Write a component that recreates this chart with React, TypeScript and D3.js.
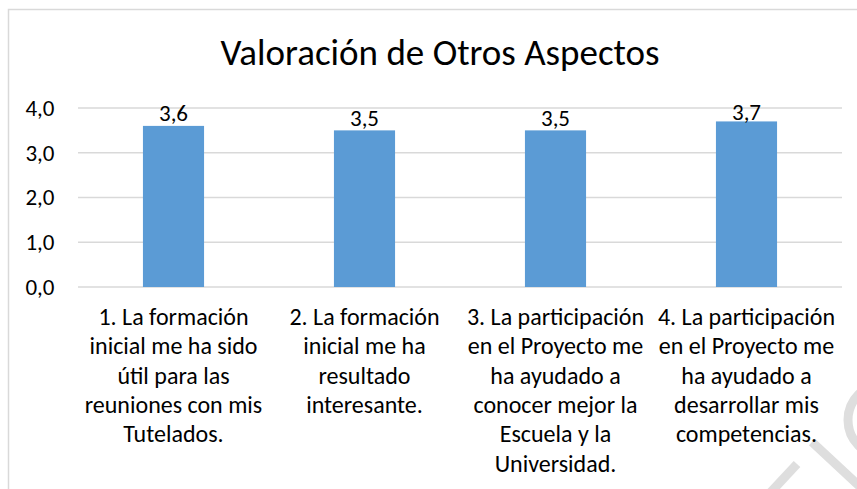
import React from "react";
import * as d3 from "d3";

const title = "Valoración de Otros Aspectos";
const categories: string[][] = [
  ["1. La formación", "inicial me ha sido", "útil para las", "reuniones con mis", "Tutelados."],
  ["2. La formación", "inicial me ha", "resultado", "interesante."],
  ["3. La participación", "en el Proyecto me", "ha ayudado a", "conocer mejor la", "Escuela y la", "Universidad."],
  ["4. La participación", "en el Proyecto me", "ha ayudado a", "desarrollar mis", "competencias."],
];
const values = [3.6, 3.5, 3.5, 3.7];
const yTicks = [0, 1, 2, 3, 4];

const W = 857;
const H = 489;
const FONT = "Carlito, Lato, sans-serif";

export default function App() {
  const left = 78;
  const right = 842;
  const top = 108;
  const bottom = 287;

  const keys = categories.map((_, i) => String(i));
  const x = d3.scaleBand<string>().domain(keys).range([left, right]).padding(0);
  const y = d3.scaleLinear().domain([0, 4]).range([bottom, top]);
  const bw = x.bandwidth() * 0.32;
  const fmt = (v: number) => d3.format(".1f")(v).replace(".", ",");

  return (
    <div style={{ position: "absolute", left: 0, top: 0 }}>
      <svg width={W} height={H} style={{ display: "block", background: "#fff" }}>
        <rect x={8.5} y={9.5} width={W + 20} height={H + 20} fill="#fff" stroke="#d9d9d9" strokeWidth={1.5} />
        {/* faint watermark in the lower-right corner */}
        <g stroke="#dedede" strokeWidth={9} fill="none">
          <circle cx={884} cy={420} r={36} />
          <line x1={812} y1={442} x2={870} y2={496} />
          <line x1={797} y1={464} x2={770} y2={493} />
        </g>
        <text x={440} y={65} textAnchor="middle" fontFamily={FONT} fontSize={37} fill="#000">
          {title}
        </text>
        {yTicks.map((t) => (
          <g key={t}>
            <line x1={left} x2={right} y1={y(t)} y2={y(t)} stroke="#d9d9d9" strokeWidth={1.5} />
            <text x={54.5} y={y(t)} dy="0.34em" textAnchor="end" fontFamily={FONT} fontSize={23} fill="#000">
              {fmt(t)}
            </text>
          </g>
        ))}
        {values.map((v, i) => {
          const cx = (x(String(i)) as number) + x.bandwidth() / 2;
          return (
            <g key={i}>
              <rect x={cx - bw / 2} y={y(v)} width={bw} height={y(0) - y(v)} fill="#5B9BD5" />
              <text
                x={cx}
                y={Math.max(y(v) - 4.5, y(4) + 12)}
                textAnchor="middle"
                fontFamily={FONT}
                fontSize={23}
                fill="#000"
              >
                {fmt(v)}
              </text>
              <text textAnchor="middle" fontFamily={FONT} fontSize={24} fill="#000">
                {categories[i].map((line, j) => (
                  <tspan key={j} x={cx} y={325 + j * 29.3}>
                    {line}
                  </tspan>
                ))}
              </text>
            </g>
          );
        })}
      </svg>
    </div>
  );
}
